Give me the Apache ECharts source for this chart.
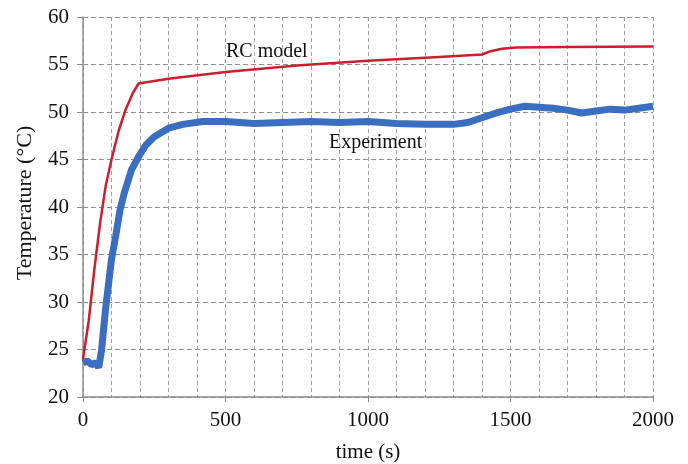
<!DOCTYPE html>
<html>
<head>
<meta charset="utf-8">
<script src="https://cdn.jsdelivr.net/npm/echarts@6/dist/echarts.min.js"></script>
<style>
  html, body { margin: 0; padding: 0; background: #fff; }
  #chart { width: 688px; height: 464px; }
</style>
</head>
<body>
<div id="chart"></div>
<script>
// values (time in s, temperature in °C)
const rcTime = [0, 20, 40, 60, 80, 100, 125, 150, 175, 195, 300, 500, 750, 1000, 1250, 1400, 1430, 1470, 1520, 1700, 2000];
const rcTemp = [24, 28, 33.5, 38.3, 42.3, 45, 48, 50.3, 52, 53, 53.5, 54.2, 54.9, 55.4, 55.8, 56.05, 56.4, 56.65, 56.8, 56.85, 56.9];

const expTime = [0, 15, 30, 45, 55, 65, 80, 100, 115, 130, 145, 170, 195, 220, 250, 300, 350, 420, 500, 600, 700, 800, 900, 1000, 1100, 1200, 1300, 1350, 1400, 1450, 1500, 1550, 1600, 1650, 1700, 1750, 1800, 1850, 1900, 1950, 2000];
const expTemp = [23.6, 23.8, 23.4, 23.6, 23.1, 24.9, 29.5, 34.5, 37, 39.7, 41.5, 43.9, 45.3, 46.5, 47.4, 48.3, 48.7, 49.0, 49.0, 48.8, 48.9, 49.0, 48.9, 49.0, 48.8, 48.7, 48.7, 48.9, 49.4, 49.9, 50.3, 50.6, 50.5, 50.4, 50.2, 49.9, 50.1, 50.3, 50.2, 50.4, 50.6];

const xTicks = [0, 500, 1000, 1500, 2000];
const yTicks = [20, 25, 30, 35, 40, 45, 50, 55, 60];

const pair = (xs, ys) => xs.map((x, i) => [x, ys[i]]);

const serif = 'Liberation Serif';
const dashed = { color: '#a0a0a0', type: [4, 3], width: 1 };

const chart = echarts.init(document.getElementById('chart'));
chart.setOption({
  animation: false,
  grid: { left: 83, right: 35, top: 17, bottom: 67, containLabel: false, outerBoundsMode: 'none' },
  xAxis: {
    type: 'value',
    min: xTicks[0],
    max: xTicks[xTicks.length - 1],
    interval: 500,
    name: 'time (s)',
    nameLocation: 'middle',
    nameGap: 45,
    nameTextStyle: { fontFamily: serif, fontSize: 21, color: '#111' },
    axisLine: { lineStyle: { color: '#8c8c8c', width: 1.5 } },
    axisTick: { show: true, length: 5, lineStyle: { color: '#8c8c8c' } },
    axisLabel: { fontFamily: serif, fontSize: 21, color: '#111', margin: 13, formatter: v => String(v) },
    splitLine: { show: true, lineStyle: dashed },
    minorTick: { show: false, splitNumber: 5 },
    minorSplitLine: { show: true, lineStyle: dashed }
  },
  yAxis: {
    type: 'value',
    min: yTicks[0],
    max: yTicks[yTicks.length - 1],
    interval: 5,
    name: 'Temperature (°C)',
    nameLocation: 'middle',
    nameGap: 47,
    nameTextStyle: { fontFamily: serif, fontSize: 22, color: '#111', padding: [0, 0, 0, 8] },
    axisLine: { show: true, lineStyle: { color: '#8c8c8c', width: 1.5 } },
    axisTick: { show: true, length: 6, lineStyle: { color: '#8c8c8c' } },
    axisLabel: { fontFamily: serif, fontSize: 21, color: '#111', margin: 14 },
    splitLine: { show: true, lineStyle: { color: '#909090', type: [5, 3], width: 1.2 } }
  },
  series: [
    {
      name: 'Experiment',
      type: 'line',
      data: pair(expTime, expTemp),
      showSymbol: false,
      lineStyle: { color: '#3a6ec0', width: 7 },
      z: 2
    },
    {
      name: 'RC model',
      type: 'line',
      data: pair(rcTime, rcTemp),
      showSymbol: false,
      lineStyle: { color: '#cc1f2e', width: 2.5 },
      z: 3
    }
  ],
  graphic: [
    { type: 'text', left: 226, top: 42, style: { text: 'RC model', font: '20px "Liberation Serif"', fill: '#111' } },
    { type: 'text', left: 329, top: 133, style: { text: 'Experiment', font: '20px "Liberation Serif"', fill: '#111' } }
  ]
});
</script>
</body>
</html>
